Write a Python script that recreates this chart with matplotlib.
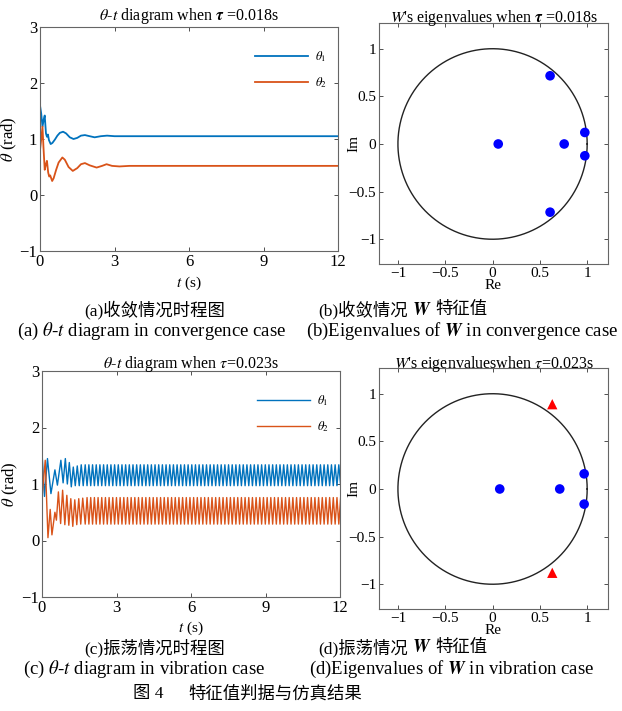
import matplotlib
matplotlib.use("Agg")
import matplotlib.pyplot as plt
import numpy as np

plt.rcParams['font.family'] = ['Liberation Serif', 'Noto Sans CJK SC']
plt.rcParams['mathtext.fontset'] = 'stix'
plt.rcParams['axes.unicode_minus'] = True

BLUE = '#0072BD'
ORANGE = '#D95319'

# ---------- (a) convergence case, tau = 0.018 s ----------
conv_t1 = [0.0, 0.05, 0.10, 0.15, 0.19, 0.24, 0.28, 0.32, 0.36, 0.43, 0.50, 0.60,
           0.70, 0.80, 0.93, 1.05, 1.20, 1.35, 1.50, 1.65, 1.81, 2.00, 2.20, 2.45,
           2.70, 3.00, 3.50, 12.0]
conv_theta1 = [1.60, 1.45, 1.22, 1.35, 1.42, 1.10, 1.04, 1.08, 0.98, 0.91, 0.93, 0.99,
               1.06, 1.11, 1.13, 1.10, 1.03, 1.00, 1.02, 1.06, 1.07, 1.05, 1.03, 1.05,
               1.06, 1.05, 1.05, 1.05]
conv_t2 = [0.0, 0.05, 0.10, 0.14, 0.19, 0.24, 0.28, 0.33, 0.37, 0.41, 0.49, 0.55,
           0.65, 0.75, 0.90, 1.00, 1.15, 1.32, 1.50, 1.65, 1.81, 2.00, 2.28, 2.50,
           2.68, 2.90, 3.20, 3.60, 12.0]
conv_theta2 = [0.80, 1.00, 1.22, 0.85, 0.45, 0.55, 0.61, 0.40, 0.33, 0.35, 0.25, 0.30,
               0.45, 0.58, 0.67, 0.63, 0.50, 0.43, 0.48, 0.55, 0.57, 0.53, 0.49, 0.52,
               0.55, 0.52, 0.51, 0.52, 0.52]

# ---------- (c) vibration case, tau = 0.023 s ----------
vib_t1 = [0.0, 0.10, 0.22, 0.36, 0.52, 0.62, 0.76, 0.85, 0.94, 1.02, 1.10, 1.18,
          1.26, 1.34, 1.42, 1.50, 1.58, 1.66]
vib_theta1 = [1.55, 0.78, 1.45, 0.83, 1.25, 0.98, 1.42, 1.02, 1.45, 1.00, 1.38, 0.95,
              1.30, 0.97, 1.32, 0.97, 1.34, 0.97]
vib_t2 = [0.0, 0.13, 0.24, 0.33, 0.40, 0.52, 0.58, 0.66, 0.75, 0.83, 0.92, 1.00,
          1.08, 1.16, 1.24, 1.32, 1.40, 1.48, 1.56, 1.64]
vib_theta2 = [0.75, 1.42, 0.05, 0.55, 0.10, 0.50, 0.36, 0.86, 0.30, 0.89, 0.28, 0.80,
              0.27, 0.74, 0.25, 0.72, 0.28, 0.74, 0.29, 0.75]
# steady oscillation: extremes and half period
vib_start = 1.74
vib_half_period = 0.074
vib_theta1_hi, vib_theta1_lo = 1.34, 0.97
vib_theta2_hi, vib_theta2_lo = 0.76, 0.29

# ---------- eigenvalues of W ----------
eig_conv_re = [0.06, 0.757, 0.975, 0.975, 0.608, 0.608]
eig_conv_im = [0.0, 0.0, 0.121, -0.124, 0.716, -0.716]
eig_vib_re = [0.076, 0.71, 0.968, 0.968]
eig_vib_im = [0.0, 0.0, 0.159, -0.159]
eig_vib_out_re = [0.631, 0.631]
eig_vib_out_im = [0.89, -0.88]

W, H = 622, 711
fig = plt.figure(figsize=(W / 100, H / 100), dpi=100)


def box(l, t, r, b):
    return [l / W, 1 - b / H, (r - l) / W, (b - t) / H]


def style(ax, size):
    ax.tick_params(direction='in', top=True, right=True, labelsize=size,
                   length=3, width=0.6, colors='#333333', labelcolor='black', pad=2)
    for s in ax.spines.values():
        s.set_color('#666666')
        s.set_linewidth(0.8)


def time_plot(ax, t1, y1, t2, y2, title, lw, xlab_y, ylab_x, tpad):
    ax.plot(t1, y1, color=BLUE, lw=lw, label=r'$\theta_1$')
    ax.plot(t2, y2, color=ORANGE, lw=lw, label=r'$\theta_2$')
    ax.set_xlim(0, 12)
    ax.set_ylim(-1, 3)
    ax.set_xticks([0, 3, 6, 9, 12])
    ax.set_yticks([-1, 0, 1, 2, 3])
    ax.set_xlabel(r'$t$ (s)', fontsize=11)
    ax.set_ylabel(r'$\theta$ (rad)', fontsize=12)
    ax.xaxis.set_label_coords(0.5, xlab_y)
    ax.yaxis.set_label_coords(ylab_x, 0.5)
    ax.set_title(title, fontsize=11.5, pad=tpad)
    ax.legend(loc='upper right', bbox_to_anchor=(1.0, 0.95), frameon=False,
              handlelength=4.3, labelspacing=0.9, fontsize=9, handletextpad=0.5)
    style(ax, 12)


def eig_plot(ax, re, im, title, tpad):
    ang = np.linspace(0, 2 * np.pi, 400)
    ax.plot(np.cos(ang), np.sin(ang), color='#222222', lw=1.0)
    ax.scatter(re, im, s=48, color='#0000FF', zorder=3, edgecolors='none')
    ax.set_xlim(-1.2, 1.22)
    ax.set_ylim(-1.26, 1.27)
    ax.set_xticks([-1, -0.5, 0, 0.5, 1])
    ax.set_yticks([-1, -0.5, 0, 0.5, 1])
    ax.set_xticklabels(['\u22121', '\u22120.5', '0', '0.5', '1'])
    ax.set_yticklabels(['\u22121', '\u22120.5', '0', '0.5', '1'])
    ax.set_xlabel('Re', fontsize=11)
    ax.set_ylabel('Im', fontsize=11)
    ax.xaxis.set_label_coords(0.5, -0.062)
    ax.yaxis.set_label_coords(-0.082, 0.5)
    ax.set_title(title, fontsize=11.5, pad=tpad)
    style(ax, 11)


# (a)
ax1 = fig.add_axes(box(40, 27, 338, 251))
time_plot(ax1, conv_t1, conv_theta1, conv_t2, conv_theta2,
          r'$\theta$-$t$ diagram when $\boldsymbol{\tau}$ =0.018s',
          1.3, -0.105, -0.072, 5)

# (b)
ax2 = fig.add_axes(box(379, 23, 608, 264))
eig_plot(ax2, eig_conv_re, eig_conv_im,
         r"$W$'s eigenvalues when $\boldsymbol{\tau}$ =0.018s", 1)

# (c)
n_half = int((12.1 - vib_start) / vib_half_period) + 1
steady_t = vib_start + vib_half_period * np.arange(n_half)
steady_1 = np.tile([vib_theta1_hi, vib_theta1_lo], n_half // 2 + 1)[:n_half]
steady_2 = np.tile([vib_theta2_lo, vib_theta2_hi], n_half // 2 + 1)[:n_half]
ax3 = fig.add_axes(box(42, 371, 340, 597))
time_plot(ax3,
          np.concatenate([vib_t1, steady_t]), np.concatenate([vib_theta1, steady_1]),
          np.concatenate([vib_t2, steady_t]), np.concatenate([vib_theta2, steady_2]),
          r'$\theta$-$t$ diagram when $\tau$=0.023s', 1.0, -0.10, -0.075, 2)

# (d)
ax4 = fig.add_axes(box(379, 368, 608, 609))
eig_plot(ax4, eig_vib_re, eig_vib_im, r"$W$'s eigenvalueswhen $\tau$=0.023s", 0)
ax4.scatter(eig_vib_out_re, eig_vib_out_im, s=55, marker='^', color='#FF0000',
            zorder=3, edgecolors='none')


# captions; CJK parts and the math W are drawn as separate pieces side by side
def mixed_text(xc, yc, pieces, gap=4):
    r = fig.canvas.get_renderer()
    objs = [fig.text(0, 1 - yc / H, s, fontsize=sz, va='center', ha='left')
            for s, sz in pieces]
    widths = [o.get_window_extent(r).width for o in objs]
    x = xc - (sum(widths) + gap * (len(objs) - 1)) / 2
    for o, w in zip(objs, widths):
        o.set_x(x / W)
        x += w + gap


cap_zh = 12.5
cap_en = 13.5
mixed_text(155, 310, [('(a)收敛情况时程图', cap_zh)])
mixed_text(403, 310, [('(b)收敛情况', cap_zh), (r'$\boldsymbol{W}$', cap_zh + 1), ('特征值', cap_zh)])
fig.text(152 / W, 1 - 331 / H, r'(a) $\theta$-$t$ diagram in convergence case',
         ha='center', va='center', fontsize=cap_en)
fig.text(462 / W, 1 - 331 / H, r'(b)Eigenvalues of $\boldsymbol{W}$ in convergence case',
         ha='center', va='center', fontsize=cap_en)
mixed_text(155, 648, [('(c)振荡情况时程图', cap_zh)])
mixed_text(403, 648, [('(d)振荡情况', cap_zh), (r'$\boldsymbol{W}$', cap_zh + 1), ('特征值', cap_zh)])
fig.text(144 / W, 1 - 669 / H, r'(c) $\theta$-$t$ diagram in vibration case',
         ha='center', va='center', fontsize=cap_en)
fig.text(452 / W, 1 - 669 / H, r'(d)Eigenvalues of $\boldsymbol{W}$ in vibration case',
         ha='center', va='center', fontsize=cap_en)
mixed_text(148, 694, [('图 4', 12.5)])
mixed_text(275, 694, [('特征值判据与仿真结果', 12.5)])

fig.savefig('out.png', dpi=100)
